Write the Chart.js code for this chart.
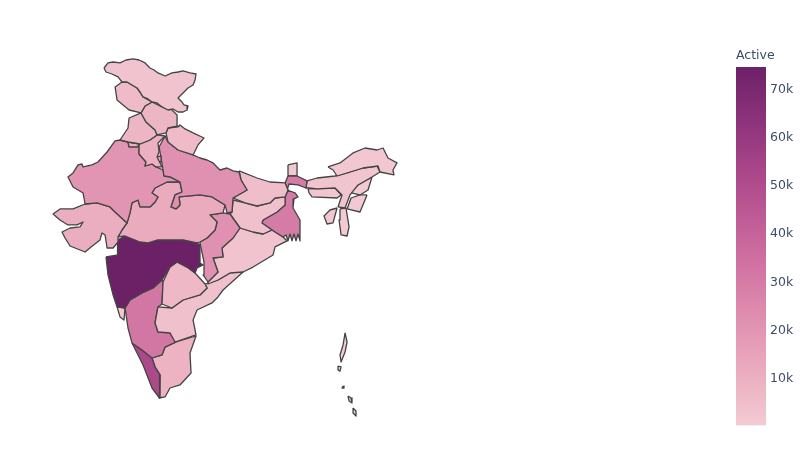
<!DOCTYPE html>
<html>
<head>
<meta charset="utf-8">
<title>Active cases by state</title>
<style>
  html, body { margin: 0; padding: 0; background: #fff; overflow: hidden; }
  #mapBox { position: absolute; left: 0; top: 0; width: 806px; height: 458px; }
  #barBox { position: absolute; left: 733px; top: 44px; width: 73px; height: 393px; }
</style>
</head>
<body>
<div id="mapBox"><canvas id="mapChart"></canvas></div>
<div id="barBox"><canvas id="barChart"></canvas></div>
<script src="https://cdn.jsdelivr.net/npm/chart.js@4"></script>
<script>
// active cases per region
const regionNames = ['Jammu & Kashmir', 'Punjab', 'Himachal Pradesh', 'Chandigarh belt', 'Uttarakhand', 'Haryana', 'Delhi',
  'Uttar Pradesh', 'Rajasthan', 'Gujarat', 'Madhya Pradesh', 'Chhattisgarh', 'Bihar', 'Jharkhand', 'West Bengal', 'Sikkim',
  'Odisha', 'Maharashtra', 'Telangana', 'Andhra Pradesh', 'Karnataka', 'Goa', 'Kerala', 'Tamil Nadu', 'Arunachal Pradesh',
  'Assam', 'Meghalaya', 'Nagaland', 'Manipur', 'Mizoram', 'Tripura', 'Andaman', 'Little Andaman', 'Nancowry', 'Car Nicobar', 'Great Nicobar'];
const activeCases = [3000, 6000, 8000, 8000, 6000, 10000, 12000,
  22000, 20000, 11000, 12000, 22000, 5000, 4000, 30000, 1000,
  3000, 74800, 7000, 4000, 32000, 1000, 52000, 9000, 1500,
  2500, 2000, 500, 1000, 500, 1500, 200, 200, 200, 200, 200];

// region outlines as [longitude, latitude]
const jammuKashmir = [[72.44,36.22],[72.78,36.65],[73.21,36.73],[73.8,36.65],[74.31,36.9],[74.91,36.99],[75.42,36.9],[75.93,36.65],[76.35,36.22],[76.69,36.05],[77.03,35.8],[77.63,35.54],[78.22,35.8],[78.73,35.88],[79.16,35.97],[79.75,35.8],[80.26,35.71],[80.18,35.2],[80.01,34.78],[79.58,34.52],[79.16,34.1],[78.73,33.67],[79.07,33.33],[79.24,33.08],[79.58,32.99],[79.5,32.65],[79.16,32.48],[78.73,32.48],[78.31,32.74],[77.88,32.65],[77.37,32.91],[76.95,33.25],[76.52,33.33],[76.18,33.59],[75.76,33.76],[75.5,34.18],[75.25,34.52],[74.82,34.78],[74.4,35.03],[73.97,35.03],[73.63,35.46],[73.12,35.71],[72.61,35.88]];
const punjab = [[73.97,35.03],[73.38,34.61],[73.55,33.5],[74.06,33.08],[74.57,32.65],[75.59,32.4],[75.93,32.99],[76.52,33.33],[75.76,33.76],[75.25,34.52],[74.4,35.03]];
const himachal = [[75.93,32.99],[75.59,32.4],[76.01,31.63],[76.78,30.95],[76.95,30.53],[77.71,30.7],[77.88,31.12],[78.73,31.29],[78.65,32.23],[78.22,32.65],[77.37,32.91],[76.52,33.33]];
const chandigarhBelt = [[75.59,32.4],[74.57,31.97],[74.48,31.12],[73.8,30.1],[74.48,29.93],[75.5,29.76],[76.35,30.1],[76.95,30.53],[76.78,30.95],[76.01,31.63]];
const uttarakhand = [[77.88,31.12],[77.71,30.7],[77.88,29.93],[78.73,29.25],[80.01,28.83],[80.43,29.68],[80.94,30.27],[80.01,30.7],[79.33,31.04],[78.9,31.38],[78.73,31.21]];
const haryana = [[74.48,29.93],[74.57,29.51],[75.25,29.51],[75.42,29.68],[75.42,28.91],[76.01,28.23],[75.93,27.89],[76.52,28.06],[76.86,27.81],[77.37,27.81],[76.95,28.66],[77.12,29.08],[77.03,29.85],[77.63,30.44],[76.95,30.53],[76.35,30.1],[75.5,29.76]];
const delhi = [[76.95,28.66],[77.29,28.74],[77.29,28.23],[76.95,28.23]];
const uttarPradesh = [[77.63,30.44],[77.12,29.51],[77.29,28.57],[77.46,27.55],[77.54,27.04],[78.05,26.96],[78.9,26.53],[79.07,25.68],[78.48,25.43],[78.14,24.41],[78.56,24.24],[78.9,24.58],[78.82,25.26],[80.6,25.43],[81.62,25.26],[82.73,24.58],[82.9,23.9],[83.32,23.98],[83.41,25.17],[84.6,25.85],[84.09,26.7],[83.92,27.38],[83.41,27.47],[82.9,27.72],[82.3,27.55],[81.71,28.15],[81.2,28.4],[80.6,28.57],[80.01,28.83],[78.73,29.25],[77.88,29.93]];
const rajasthan = [[73.8,30.1],[73.38,30.02],[72.7,29.08],[71.93,28.23],[71.42,27.98],[70.66,27.81],[70.57,28.06],[70.23,27.98],[69.81,27.3],[69.38,26.96],[69.81,26.11],[70.66,25.6],[70.83,24.66],[71.85,24.75],[72.95,24.41],[73.38,23.98],[74.4,23.05],[74.65,23.9],[74.82,24.75],[75.33,25],[75.5,24.41],[76.35,24.41],[76.78,24.83],[77.03,25.26],[76.52,25.6],[76.78,26.02],[77.8,26.53],[78.9,26.53],[78.05,26.96],[77.54,27.04],[77.46,27.55],[76.86,27.81],[76.52,28.06],[75.93,27.89],[76.01,28.23],[75.42,28.91],[75.42,29.68],[75.25,29.51],[74.57,29.51],[74.48,29.93]];
const gujarat = [[70.83,24.66],[69.81,24.24],[68.7,24.24],[68.11,23.81],[68.7,23.3],[69.38,22.88],[70.15,22.88],[70.66,23.13],[70.4,22.71],[69.55,22.62],[68.87,22.28],[69.13,21.77],[69.55,21.09],[70.83,20.58],[71.34,21.01],[72.1,21.6],[72.27,22.2],[72.53,22.03],[72.7,20.92],[73.21,20.92],[73.63,21.43],[73.63,21.86],[73.97,22.45],[74.4,23.05],[73.38,23.98],[72.95,24.41],[71.85,24.75]];
const madhyaPradesh = [[74.4,23.05],[74.65,23.9],[74.82,24.75],[75.33,25],[75.5,24.41],[76.35,24.41],[76.78,24.83],[77.03,25.26],[76.52,25.6],[76.78,26.02],[77.8,26.53],[78.9,26.53],[79.07,25.68],[78.48,25.43],[78.14,24.41],[78.56,24.24],[78.9,24.58],[78.82,25.26],[80.6,25.43],[81.62,25.26],[82.73,24.58],[82.56,23.9],[81.45,23.73],[82.05,23.13],[81.88,22.45],[81.2,21.77],[80.6,21.43],[80.35,21.35],[79.16,21.6],[77.88,21.6],[76.95,21.6],[76.18,21.35],[75.5,21.43],[74.23,21.94],[73.63,21.86],[73.97,22.45]];
const chhattisgarh = [[82.56,23.9],[83.15,23.81],[84,22.62],[83.41,21.77],[82.47,20.92],[82.56,20.16],[81.71,20.07],[82.13,18.88],[81.28,18.03],[80.86,18.63],[80.94,19.73],[80.6,21.35],[80.6,21.43],[81.2,21.77],[81.88,22.45],[82.05,23.13],[81.45,23.73]];
const bihar = [[83.92,27.47],[85.45,26.87],[86.55,26.53],[87.83,26.45],[88.08,25.85],[87.83,25.26],[86.98,25.17],[86.55,24.75],[85.45,24.49],[84.43,24.75],[83.41,25.17],[84.6,25.85],[84.09,26.7]];
const jharkhand = [[83.41,25],[84.43,24.75],[85.45,24.49],[86.55,24.75],[86.98,25.17],[87.83,25.26],[87.83,24.58],[87.15,23.98],[85.96,23.3],[85.87,23.05],[86.72,22.45],[85.96,22.11],[85.11,22.28],[84,22.62],[83.15,23.81],[83.32,23.98]];
const westBengal = [[88.08,27.04],[88.85,27.04],[89.7,26.62],[89.61,26.02],[88.93,26.28],[88.17,26.36],[88,25.85],[88.68,25.6],[88.93,25.26],[88.59,25.09],[88.51,24.32],[89.1,23.3],[89.1,21.52],[88.93,22.11],[88.76,21.52],[88.59,22.11],[88.42,21.52],[88.25,22.11],[88.08,21.52],[87.91,22.03],[87.66,21.86],[86.72,22.45],[85.87,23.05],[85.96,23.3],[87.15,23.98],[87.83,24.58],[87.83,25.26],[88.08,25.85],[87.83,26.45]];
const sikkim = [[88.08,27.98],[88.85,28.15],[88.85,27.04],[88.08,27.04]];
const odisha = [[84,22.62],[85.11,22.28],[85.96,22.11],[86.72,22.45],[87.66,21.86],[88,21.52],[86.98,21.01],[86.81,20.33],[85.11,19.3],[84.26,18.88],[83.15,18.8],[82.13,18.2],[81.28,17.86],[81.28,18.03],[82.13,18.88],[81.71,20.07],[82.56,20.16],[82.47,20.92],[83.41,21.77]];
const maharashtra = [[72.61,20.16],[73.63,20.33],[73.55,20.75],[73.63,21.6],[74.23,21.94],[75.5,21.43],[76.18,21.35],[76.95,21.6],[77.88,21.6],[79.16,21.6],[80.35,21.35],[80.6,21.18],[80.6,19.65],[80.86,19.48],[80.35,19.22],[80.18,18.8],[79.5,19.3],[78.65,19.73],[78.05,19.3],[77.37,18.2],[76.61,17.52],[75.67,17.1],[74.65,16.5],[74.23,15.82],[73.55,15.91],[73.21,16.93],[72.78,18.63]];
const telangana = [[78.65,19.73],[79.5,19.3],[80.18,18.8],[81.03,17.86],[81.2,17.52],[80.6,16.93],[79.16,16.5],[78.22,15.82],[77.37,16.16],[77.46,18.03],[78.05,19.3]];
const andhraPradesh = [[81.03,17.86],[82.13,18.2],[83.15,18.8],[84.26,18.88],[82.56,17.35],[82.13,16.76],[81.62,16.25],[80.35,15.65],[80.01,14.8],[80.26,13.53],[78.48,12.93],[78.05,13.7],[77.03,13.78],[76.78,14.55],[77.03,15.91],[78.22,15.82],[79.16,16.5],[80.6,16.93],[81.2,17.52]];
const karnataka = [[74.65,16.5],[75.67,17.1],[76.61,17.52],[77.37,18.2],[77.46,18.03],[77.37,16.16],[77.03,15.91],[76.78,14.55],[77.03,13.78],[78.05,13.7],[78.56,12.93],[77.63,12.5],[77.37,11.83],[76.52,11.57],[75.67,12.25],[74.82,12.85],[74.48,14.12],[74.23,15.82]];
const goa = [[73.55,15.91],[74.23,15.82],[74.14,14.8],[73.8,15.06]];
const kerala = [[74.82,12.85],[75.67,12.25],[76.52,11.57],[76.78,10.8],[77.2,10.13],[77.2,9.02],[77.12,8.17],[76.52,9.02],[75.76,10.98],[75.25,12]];
const tamilNadu = [[76.52,11.57],[77.37,11.83],[77.63,12.5],[78.56,12.93],[80.26,13.44],[79.75,12],[79.84,10.3],[78.9,9.28],[78.05,9.02],[77.63,8.26],[77.12,8.17],[77.2,9.02],[77.2,10.13],[76.78,10.8]];
const arunachal = [[91.48,27.81],[92.5,28.15],[93.61,29],[94.63,29.42],[95.65,29.25],[96.16,29.42],[96.58,28.57],[97.35,28.15],[97,27.55],[97.09,27.13],[95.9,27.38],[95.73,27.89],[94.46,27.72],[93.35,27.38],[92.25,27.04],[91.91,27.55]];
const assam = [[89.7,26.62],[90.55,26.87],[92.08,27.04],[93.35,27.38],[94.46,27.72],[95.65,27.89],[95.9,27.38],[95.22,26.96],[94.03,26.28],[93.35,25.43],[92.93,24.32],[92.33,24.41],[92.67,25.43],[92.08,26.02],[90.55,25.94],[89.87,26.02],[89.61,26.02]];
const meghalaya = [[89.78,25.94],[92.08,26.02],[92.59,25.43],[92.25,25.17],[90.12,25.26],[89.87,25.6]];
const nagaland = [[95.22,26.96],[94.88,25.85],[94.2,25.43],[93.44,25.6],[94.03,26.28]];
const manipur = [[94.8,25.43],[94.2,23.98],[93.1,24.24],[93.44,25.17],[94.2,25.43]];
const mizoram = [[92.5,24.24],[93.01,24.32],[93.27,22.71],[93.1,21.94],[92.59,22.03],[92.42,23.3]];
const tripura = [[92.25,24.32],[91.91,23.05],[91.4,22.96],[91.14,23.64],[91.65,24.15]];
const andaman = [[92.93,13.7],[93.1,12.93],[92.93,12.08],[92.59,11.23],[92.5,11.83],[92.76,12.68]];
const littleAndaman = [[92.33,10.89],[92.59,10.81],[92.5,10.46],[92.33,10.55]];
const nancowry = [[92.76,9.19],[92.84,9.02],[92.67,9.02]];
const carNicobar = [[93.18,8.34],[93.44,8.17],[93.52,7.75],[93.27,7.92]];
const greatNicobar = [[93.61,7.32],[93.86,7.07],[93.86,6.64],[93.61,6.9]];

const regionOutlines = [jammuKashmir, punjab, himachal, chandigarhBelt, uttarakhand, haryana, delhi,
  uttarPradesh, rajasthan, gujarat, madhyaPradesh, chhattisgarh, bihar, jharkhand, westBengal, sikkim,
  odisha, maharashtra, telangana, andhraPradesh, karnataka, goa, kerala, tamilNadu, arunachal,
  assam, meghalaya, nagaland, manipur, mizoram, tripura, andaman, littleAndaman, nancowry, carNicobar, greatNicobar];

// colour bar
const colorStops = ['#f3cbd3', '#eaa9bd', '#dd88ac', '#ca699d', '#b14d8e', '#91357d', '#6c2167'];
const barTicks = [10000, 20000, 30000, 40000, 50000, 60000, 70000];
const barMin = 200;
const barMax = 74800;

const fontFamily = '"DejaVu Sans", Verdana, sans-serif';
const textColor = '#3d4d68';

function hexToRgb(hex) {
  return [1, 3, 5].map(function (i) { return parseInt(hex.substr(i, 2), 16); });
}

function colorFor(value) {
  const t = Math.min(1, Math.max(0, (value - barMin) / (barMax - barMin))) * (colorStops.length - 1);
  const i = Math.min(Math.floor(t), colorStops.length - 2);
  const a = hexToRgb(colorStops[i]);
  const b = hexToRgb(colorStops[i + 1]);
  const c = a.map(function (v, k) { return Math.round(v + (b[k] - v) * (t - i)); });
  return 'rgb(' + c.join(',') + ')';
}

const mapDatasets = regionOutlines.map(function (outline, i) {
  const points = outline.concat([outline[0]]).map(function (p) { return { x: p[0], y: p[1] }; });
  return {
    label: regionNames[i],
    data: points,
    showLine: true,
    fill: 'shape',
    backgroundColor: colorFor(activeCases[i]),
    borderColor: '#444444',
    borderWidth: 1.3,
    borderJoinStyle: 'round',
    pointRadius: 0,
    tension: 0
  };
});

new Chart(document.getElementById('mapChart'), {
  type: 'scatter',
  data: { datasets: mapDatasets },
  options: {
    responsive: true,
    maintainAspectRatio: false,
    animation: false,
    layout: { padding: 0 },
    plugins: { legend: { display: false }, tooltip: { enabled: false } },
    scales: {
      x: { display: false, min: 63.6, max: 132.11 },
      y: { display: false, min: 3.07, max: 42 }
    }
  }
});

new Chart(document.getElementById('barChart'), {
  type: 'bar',
  data: {
    labels: ['Active'],
    datasets: [{
      data: [[barMin, barMax]],
      barPercentage: 1,
      categoryPercentage: 1,
      backgroundColor: function (context) {
        const area = context.chart.chartArea;
        if (!area) return colorStops[0];
        const g = context.chart.ctx.createLinearGradient(0, area.bottom, 0, area.top);
        colorStops.forEach(function (c, i) { g.addColorStop(i / (colorStops.length - 1), c); });
        return g;
      }
    }]
  },
  options: {
    responsive: true,
    maintainAspectRatio: false,
    animation: false,
    layout: { padding: { left: 3, top: 0, bottom: 6 } },
    plugins: {
      legend: { display: false },
      tooltip: { enabled: false },
      title: {
        display: true,
        text: 'Active',
        align: 'start',
        color: textColor,
        font: { family: fontFamily, size: 12.5, weight: 'normal' },
        padding: { top: 4, bottom: 4 }
      }
    },
    scales: {
      x: { display: false },
      y: {
        position: 'right',
        min: barMin,
        max: barMax,
        grid: { display: false, drawTicks: false },
        border: { display: false },
        afterBuildTicks: function (axis) {
          axis.ticks = barTicks.map(function (v) { return { value: v }; });
        },
        afterFit: function (axis) { axis.width = 40; },
        ticks: {
          color: textColor,
          padding: 4,
          font: { family: fontFamily, size: 12.5 },
          callback: function (v) { return (v / 1000) + 'k'; }
        }
      }
    }
  }
});
</script>
</body>
</html>
